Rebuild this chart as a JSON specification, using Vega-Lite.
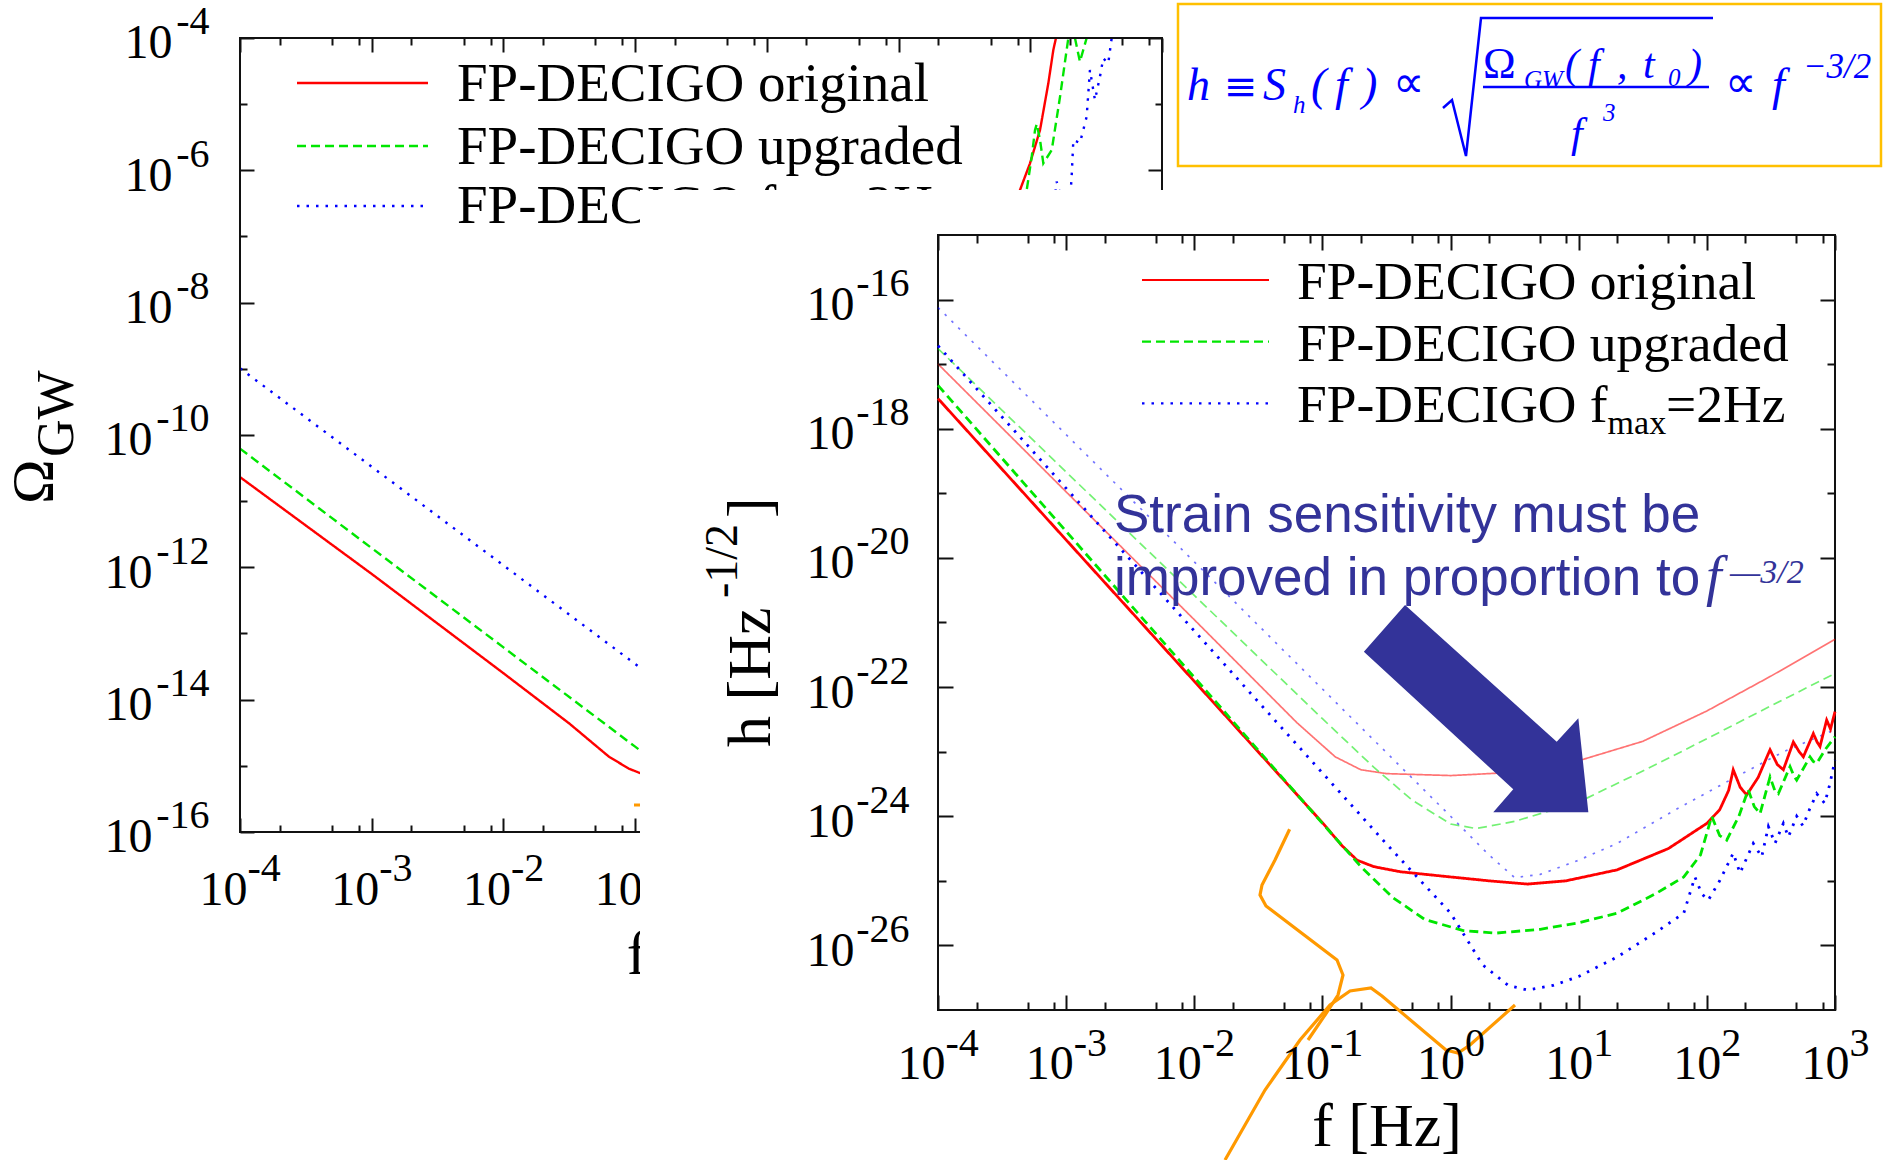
{
  "$schema": "https://vega.github.io/schema/vega-lite/v6.json",
  "width": 1883,
  "height": 1160,
  "autosize": {"type": "none"},
  "padding": 0,
  "background": "white",
  "config": {
    "view": {"stroke": null},
    "axis": {
      "grid": false,
      "labelFont": "Liberation Serif",
      "titleFont": "Liberation Serif",
      "titleFontWeight": "normal",
      "labelColor": "#000",
      "titleColor": "#000",
      "tickColor": "#111",
      "domainColor": "#111",
      "tickWidth": 2,
      "domainWidth": 2,
      "labelFlush": false,
      "labelOverlap": false,
      "labelLimit": 400
    }
  },
  "datasets": {
    "lc": [
      {"s": "original", "g": "a", "lf": -4, "lo": -10.636},
      {"s": "original", "g": "a", "lf": -3, "lo": -12.1},
      {"s": "original", "g": "a", "lf": -2, "lo": -13.6},
      {"s": "original", "g": "a", "lf": -1.5, "lo": -14.36},
      {"s": "original", "g": "a", "lf": -1.2, "lo": -14.86},
      {"s": "original", "g": "a", "lf": -1.05, "lo": -15.04},
      {"s": "original", "g": "a", "lf": -0.9, "lo": -15.16},
      {"s": "original", "g": "a", "lf": -0.7, "lo": -15.3},
      {"s": "original", "g": "b", "lf": 1.8, "lo": -6.95},
      {"s": "original", "g": "b", "lf": 1.922, "lo": -6.297},
      {"s": "original", "g": "b", "lf": 1.998, "lo": -5.894},
      {"s": "original", "g": "b", "lf": 2.074, "lo": -5.39},
      {"s": "original", "g": "b", "lf": 2.137, "lo": -4.685},
      {"s": "original", "g": "b", "lf": 2.175, "lo": -4.181},
      {"s": "original", "g": "b", "lf": 2.195, "lo": -4.0},
      {"s": "upgraded", "g": "a", "lf": -4, "lo": -10.206},
      {"s": "upgraded", "g": "a", "lf": -3, "lo": -11.71},
      {"s": "upgraded", "g": "a", "lf": -2, "lo": -13.21},
      {"s": "upgraded", "g": "a", "lf": -1, "lo": -14.71},
      {"s": "upgraded", "g": "a", "lf": -0.7, "lo": -15.16},
      {"s": "upgraded", "g": "b", "lf": 1.9, "lo": -6.9},
      {"s": "upgraded", "g": "b", "lf": 1.973, "lo": -6.297},
      {"s": "upgraded", "g": "b", "lf": 2.011, "lo": -5.794},
      {"s": "upgraded", "g": "b", "lf": 2.036, "lo": -5.39},
      {"s": "upgraded", "g": "b", "lf": 2.049, "lo": -5.3},
      {"s": "upgraded", "g": "b", "lf": 2.074, "lo": -5.54},
      {"s": "upgraded", "g": "b", "lf": 2.099, "lo": -5.894},
      {"s": "upgraded", "g": "b", "lf": 2.163, "lo": -5.693},
      {"s": "upgraded", "g": "b", "lf": 2.226, "lo": -4.887},
      {"s": "upgraded", "g": "b", "lf": 2.289, "lo": -4.0},
      {"s": "upgraded", "g": "c", "lf": 2.339, "lo": -4.0},
      {"s": "upgraded", "g": "c", "lf": 2.377, "lo": -4.358},
      {"s": "upgraded", "g": "c", "lf": 2.428, "lo": -4.0},
      {"s": "fmax", "g": "a", "lf": -4, "lo": -8.992},
      {"s": "fmax", "g": "a", "lf": -3, "lo": -10.48},
      {"s": "fmax", "g": "a", "lf": -2, "lo": -11.97},
      {"s": "fmax", "g": "a", "lf": -1, "lo": -13.46},
      {"s": "fmax", "g": "a", "lf": -0.7, "lo": -13.91},
      {"s": "fmax", "g": "b", "lf": 2.15, "lo": -6.6},
      {"s": "fmax", "g": "b", "lf": 2.19, "lo": -6.35},
      {"s": "fmax", "g": "b", "lf": 2.2, "lo": -6.17},
      {"s": "fmax", "g": "b", "lf": 2.24, "lo": -6.45},
      {"s": "fmax", "g": "b", "lf": 2.3, "lo": -6.5},
      {"s": "fmax", "g": "b", "lf": 2.314, "lo": -6.1},
      {"s": "fmax", "g": "b", "lf": 2.327, "lo": -5.542},
      {"s": "fmax", "g": "b", "lf": 2.377, "lo": -5.587},
      {"s": "fmax", "g": "b", "lf": 2.428, "lo": -5.189},
      {"s": "fmax", "g": "b", "lf": 2.453, "lo": -4.484},
      {"s": "fmax", "g": "b", "lf": 2.491, "lo": -4.937},
      {"s": "fmax", "g": "b", "lf": 2.529, "lo": -4.585},
      {"s": "fmax", "g": "b", "lf": 2.554, "lo": -4.307},
      {"s": "fmax", "g": "b", "lf": 2.592, "lo": -4.382},
      {"s": "fmax", "g": "b", "lf": 2.618, "lo": -4.0}
    ],
    "llr": [
      {"s": "original", "a": -3.5672, "b": -2.5727, "lo": -4.6801},
      {"s": "upgraded", "a": -3.5672, "b": -2.5727, "lo": -5.6322},
      {"s": "fmax", "a": -3.5672, "b": -2.5727, "lo": -6.539}
    ],
    "llt": [
      {"lf": -2.3525, "lo": -4.9521, "t": "FP-DECIGO original"},
      {"lf": -2.3525, "lo": -5.9043, "t": "FP-DECIGO upgraded"},
      {"lf": -2.3525, "lo": -6.796, "t": "FP-DECIGO f"},
      {"lf": 0.5158, "lo": -6.796, "t": "=2Hz"}
    ],
    "rc": [
      {"s": "original", "k": "faded", "lf": -4, "lh": -16.997},
      {"s": "original", "k": "faded", "lf": -2, "lh": -20.957},
      {"s": "original", "k": "faded", "lf": -1.2, "lh": -22.55},
      {"s": "original", "k": "faded", "lf": -0.9, "lh": -23.08},
      {"s": "original", "k": "faded", "lf": -0.7, "lh": -23.28},
      {"s": "original", "k": "faded", "lf": -0.5, "lh": -23.34},
      {"s": "original", "k": "faded", "lf": 0, "lh": -23.37},
      {"s": "original", "k": "faded", "lf": 0.5, "lh": -23.32},
      {"s": "original", "k": "faded", "lf": 1, "lh": -23.14},
      {"s": "original", "k": "faded", "lf": 1.5, "lh": -22.84},
      {"s": "original", "k": "faded", "lf": 2, "lh": -22.37},
      {"s": "original", "k": "faded", "lf": 2.5, "lh": -21.83},
      {"s": "original", "k": "faded", "lf": 3, "lh": -21.26},
      {"s": "upgraded", "k": "faded", "lf": -4, "lh": -16.758},
      {"s": "upgraded", "k": "faded", "lf": -2, "lh": -20.58},
      {"s": "upgraded", "k": "faded", "lf": -1, "lh": -22.49},
      {"s": "upgraded", "k": "faded", "lf": -0.6, "lh": -23.24},
      {"s": "upgraded", "k": "faded", "lf": -0.3, "lh": -23.75},
      {"s": "upgraded", "k": "faded", "lf": 0, "lh": -24.12},
      {"s": "upgraded", "k": "faded", "lf": 0.2, "lh": -24.19},
      {"s": "upgraded", "k": "faded", "lf": 0.5, "lh": -24.08},
      {"s": "upgraded", "k": "faded", "lf": 1, "lh": -23.78},
      {"s": "upgraded", "k": "faded", "lf": 1.5, "lh": -23.3},
      {"s": "upgraded", "k": "faded", "lf": 2, "lh": -22.8},
      {"s": "upgraded", "k": "faded", "lf": 2.5, "lh": -22.29},
      {"s": "upgraded", "k": "faded", "lf": 3, "lh": -21.79},
      {"s": "fmax", "k": "faded", "lf": -4, "lh": -16.123},
      {"s": "fmax", "k": "faded", "lf": -2, "lh": -20.06},
      {"s": "fmax", "k": "faded", "lf": -1, "lh": -22.03},
      {"s": "fmax", "k": "faded", "lf": 0, "lh": -24.0},
      {"s": "fmax", "k": "faded", "lf": 0.3, "lh": -24.6},
      {"s": "fmax", "k": "faded", "lf": 0.5, "lh": -24.95},
      {"s": "fmax", "k": "faded", "lf": 0.7, "lh": -24.9},
      {"s": "fmax", "k": "faded", "lf": 1, "lh": -24.68},
      {"s": "fmax", "k": "faded", "lf": 1.3, "lh": -24.42},
      {"s": "fmax", "k": "faded", "lf": 1.8, "lh": -23.85},
      {"s": "fmax", "k": "faded", "lf": 2.2, "lh": -23.42},
      {"s": "fmax", "k": "faded", "lf": 2.6, "lh": -23.0},
      {"s": "fmax", "k": "faded", "lf": 3, "lh": -22.66},
      {"s": "original", "k": "bold", "lf": -4, "lh": -17.533},
      {"s": "original", "k": "bold", "lf": -2, "lh": -21.91},
      {"s": "original", "k": "bold", "lf": -1, "lh": -24.1},
      {"s": "original", "k": "bold", "lf": -0.85, "lh": -24.45},
      {"s": "original", "k": "bold", "lf": -0.73, "lh": -24.68},
      {"s": "original", "k": "bold", "lf": -0.6, "lh": -24.78},
      {"s": "original", "k": "bold", "lf": -0.39, "lh": -24.86},
      {"s": "original", "k": "bold", "lf": 0, "lh": -24.94},
      {"s": "original", "k": "bold", "lf": 0.3, "lh": -25.0},
      {"s": "original", "k": "bold", "lf": 0.6, "lh": -25.05},
      {"s": "original", "k": "bold", "lf": 0.9, "lh": -25.0},
      {"s": "original", "k": "bold", "lf": 1.3, "lh": -24.83},
      {"s": "original", "k": "bold", "lf": 1.7, "lh": -24.5},
      {"s": "original", "k": "bold", "lf": 2, "lh": -24.11},
      {"s": "original", "k": "bold", "lf": 2.1, "lh": -23.9},
      {"s": "original", "k": "bold", "lf": 2.17, "lh": -23.6},
      {"s": "original", "k": "bold", "lf": 2.206, "lh": -23.28},
      {"s": "original", "k": "bold", "lf": 2.26, "lh": -23.55},
      {"s": "original", "k": "bold", "lf": 2.311, "lh": -23.67},
      {"s": "original", "k": "bold", "lf": 2.4, "lh": -23.4},
      {"s": "original", "k": "bold", "lf": 2.493, "lh": -22.97},
      {"s": "original", "k": "bold", "lf": 2.55, "lh": -23.2},
      {"s": "original", "k": "bold", "lf": 2.597, "lh": -23.28},
      {"s": "original", "k": "bold", "lf": 2.675, "lh": -22.85},
      {"s": "original", "k": "bold", "lf": 2.72, "lh": -23.0},
      {"s": "original", "k": "bold", "lf": 2.753, "lh": -23.08},
      {"s": "original", "k": "bold", "lf": 2.831, "lh": -22.72},
      {"s": "original", "k": "bold", "lf": 2.86, "lh": -22.85},
      {"s": "original", "k": "bold", "lf": 2.883, "lh": -22.92},
      {"s": "original", "k": "bold", "lf": 2.935, "lh": -22.51},
      {"s": "original", "k": "bold", "lf": 2.965, "lh": -22.65},
      {"s": "original", "k": "bold", "lf": 3, "lh": -22.38},
      {"s": "upgraded", "k": "bold", "lf": -4, "lh": -17.328},
      {"s": "upgraded", "k": "bold", "lf": -2, "lh": -21.85},
      {"s": "upgraded", "k": "bold", "lf": -1, "lh": -24.11},
      {"s": "upgraded", "k": "bold", "lf": -0.7, "lh": -24.78},
      {"s": "upgraded", "k": "bold", "lf": -0.45, "lh": -25.26},
      {"s": "upgraded", "k": "bold", "lf": -0.2, "lh": -25.6},
      {"s": "upgraded", "k": "bold", "lf": 0.1, "lh": -25.77},
      {"s": "upgraded", "k": "bold", "lf": 0.35, "lh": -25.81},
      {"s": "upgraded", "k": "bold", "lf": 0.7, "lh": -25.75},
      {"s": "upgraded", "k": "bold", "lf": 1, "lh": -25.65},
      {"s": "upgraded", "k": "bold", "lf": 1.3, "lh": -25.5},
      {"s": "upgraded", "k": "bold", "lf": 1.6, "lh": -25.2},
      {"s": "upgraded", "k": "bold", "lf": 1.82, "lh": -24.94},
      {"s": "upgraded", "k": "bold", "lf": 1.95, "lh": -24.6},
      {"s": "upgraded", "k": "bold", "lf": 2.038, "lh": -24.0},
      {"s": "upgraded", "k": "bold", "lf": 2.1, "lh": -24.3},
      {"s": "upgraded", "k": "bold", "lf": 2.155, "lh": -24.37},
      {"s": "upgraded", "k": "bold", "lf": 2.25, "lh": -24.0},
      {"s": "upgraded", "k": "bold", "lf": 2.323, "lh": -23.59},
      {"s": "upgraded", "k": "bold", "lf": 2.37, "lh": -23.85},
      {"s": "upgraded", "k": "bold", "lf": 2.415, "lh": -23.96},
      {"s": "upgraded", "k": "bold", "lf": 2.493, "lh": -23.39},
      {"s": "upgraded", "k": "bold", "lf": 2.53, "lh": -23.6},
      {"s": "upgraded", "k": "bold", "lf": 2.558, "lh": -23.65},
      {"s": "upgraded", "k": "bold", "lf": 2.649, "lh": -23.23},
      {"s": "upgraded", "k": "bold", "lf": 2.68, "lh": -23.38},
      {"s": "upgraded", "k": "bold", "lf": 2.701, "lh": -23.44},
      {"s": "upgraded", "k": "bold", "lf": 2.805, "lh": -23.08},
      {"s": "upgraded", "k": "bold", "lf": 2.83, "lh": -23.15},
      {"s": "upgraded", "k": "bold", "lf": 2.857, "lh": -23.18},
      {"s": "upgraded", "k": "bold", "lf": 2.93, "lh": -22.95},
      {"s": "upgraded", "k": "bold", "lf": 3, "lh": -22.77},
      {"s": "fmax", "k": "bold", "lf": -4, "lh": -16.715},
      {"s": "fmax", "k": "bold", "lf": -2, "lh": -21.13},
      {"s": "fmax", "k": "bold", "lf": -1, "lh": -23.33},
      {"s": "fmax", "k": "bold", "lf": -0.5, "lh": -24.43},
      {"s": "fmax", "k": "bold", "lf": 0, "lh": -25.5},
      {"s": "fmax", "k": "bold", "lf": 0.25, "lh": -26.3},
      {"s": "fmax", "k": "bold", "lf": 0.45, "lh": -26.62},
      {"s": "fmax", "k": "bold", "lf": 0.6, "lh": -26.69},
      {"s": "fmax", "k": "bold", "lf": 0.8, "lh": -26.62},
      {"s": "fmax", "k": "bold", "lf": 1, "lh": -26.48},
      {"s": "fmax", "k": "bold", "lf": 1.3, "lh": -26.18},
      {"s": "fmax", "k": "bold", "lf": 1.6, "lh": -25.8},
      {"s": "fmax", "k": "bold", "lf": 1.82, "lh": -25.5},
      {"s": "fmax", "k": "bold", "lf": 1.907, "lh": -24.94},
      {"s": "fmax", "k": "bold", "lf": 1.96, "lh": -25.2},
      {"s": "fmax", "k": "bold", "lf": 2.011, "lh": -25.3},
      {"s": "fmax", "k": "bold", "lf": 2.1, "lh": -25.0},
      {"s": "fmax", "k": "bold", "lf": 2.206, "lh": -24.57},
      {"s": "fmax", "k": "bold", "lf": 2.259, "lh": -24.88},
      {"s": "fmax", "k": "bold", "lf": 2.362, "lh": -24.42},
      {"s": "fmax", "k": "bold", "lf": 2.428, "lh": -24.63},
      {"s": "fmax", "k": "bold", "lf": 2.48, "lh": -24.16},
      {"s": "fmax", "k": "bold", "lf": 2.532, "lh": -24.42},
      {"s": "fmax", "k": "bold", "lf": 2.597, "lh": -24.11},
      {"s": "fmax", "k": "bold", "lf": 2.636, "lh": -24.32},
      {"s": "fmax", "k": "bold", "lf": 2.701, "lh": -24.0},
      {"s": "fmax", "k": "bold", "lf": 2.75, "lh": -24.15},
      {"s": "fmax", "k": "bold", "lf": 2.8, "lh": -23.9},
      {"s": "fmax", "k": "bold", "lf": 2.857, "lh": -23.65},
      {"s": "fmax", "k": "bold", "lf": 2.92, "lh": -23.8},
      {"s": "fmax", "k": "bold", "lf": 2.96, "lh": -23.5},
      {"s": "fmax", "k": "bold", "lf": 3, "lh": -23.13}
    ],
    "rlr": [
      {"s": "original", "a": -2.4081, "b": -1.417, "lh": -15.6968},
      {"s": "upgraded", "a": -2.4081, "b": -1.417, "lh": -16.6522},
      {"s": "fmax", "a": -2.4081, "b": -1.417, "lh": -17.606}
    ],
    "rlt": [
      {"lf": -1.1985, "lh": -15.991, "t": "FP-DECIGO original"},
      {"lf": -1.1985, "lh": -16.9464, "t": "FP-DECIGO upgraded"},
      {"lf": -1.1985, "lh": -17.9002, "t": "FP-DECIGO f"},
      {"lf": 1.6819, "lh": -17.9002, "t": "=2Hz"}
    ],
    "orange": [
      {"c": "A", "i": 0, "lf": -1.2562, "lh": -24.2022},
      {"c": "A", "i": 1, "lf": -1.3702, "lh": -24.6775},
      {"c": "A", "i": 2, "lf": -1.4716, "lh": -25.0646},
      {"c": "A", "i": 3, "lf": -1.4872, "lh": -25.2195},
      {"c": "A", "i": 4, "lf": -1.4404, "lh": -25.3898},
      {"c": "A", "i": 5, "lf": -0.8863, "lh": -26.2259},
      {"c": "A", "i": 6, "lf": -0.8395, "lh": -26.4582},
      {"c": "A", "i": 7, "lf": -0.8785, "lh": -26.7679},
      {"c": "A", "i": 8, "lf": -0.98, "lh": -27.0776},
      {"c": "A", "i": 9, "lf": -1.1126, "lh": -27.4647},
      {"c": "B", "i": 0, "lf": -1.7603, "lh": -29.3227},
      {"c": "B", "i": 1, "lf": -1.4482, "lh": -28.2389},
      {"c": "B", "i": 2, "lf": -1.1751, "lh": -27.4647},
      {"c": "B", "i": 3, "lf": -0.9409, "lh": -26.9227},
      {"c": "B", "i": 4, "lf": -0.7849, "lh": -26.7059},
      {"c": "B", "i": 5, "lf": -0.621, "lh": -26.6595},
      {"c": "B", "i": 6, "lf": -0.5351, "lh": -26.7834},
      {"c": "B", "i": 7, "lf": -0.0357, "lh": -27.6195},
      {"c": "B", "i": 8, "lf": 0.0579, "lh": -27.666},
      {"c": "B", "i": 9, "lf": 0.1516, "lh": -27.5421},
      {"c": "B", "i": 10, "lf": 0.5028, "lh": -26.9227}
    ],
    "fit46": [
      {"lf": -2.0569, "lh": -12.9097, "t": "h"},
      {"lf": -1.4638, "lh": -12.9097, "t": "S"},
      {"lf": -1.0892, "lh": -12.9097, "t": "("},
      {"lf": -0.9019, "lh": -12.9097, "t": "f"},
      {"lf": -0.6912, "lh": -12.9097, "t": ")"},
      {"lf": 2.5083, "lh": -12.9097, "t": "f"}
    ],
    "fit42": [
      {"lf": 0.8929, "lh": -12.5691, "t": "("},
      {"lf": 1.0724, "lh": -12.5691, "t": "f"},
      {"lf": 1.2987, "lh": -12.5691, "t": ","},
      {"lf": 1.5016, "lh": -12.5691, "t": "t"},
      {"lf": 1.8528, "lh": -12.5691, "t": ")"},
      {"lf": 0.9398, "lh": -13.6374, "t": "f"}
    ],
    "fprop": [
      {"lf": -0.4493, "lh": -12.86, "t": "∝"},
      {"lf": 2.1416, "lh": -12.86, "t": "∝"}
    ],
    "fsm": [
      {"lf": -1.2297, "lh": -13.111, "t": "h"},
      {"lf": 0.573, "lh": -12.7239, "t": "GW"},
      {"lf": 1.6967, "lh": -12.6929, "t": "0"},
      {"lf": 1.1895, "lh": -13.2349, "t": "3"}
    ],
    "sqrt": [
      {"lf": -0.0591, "lh": -13.0336},
      {"lf": 0.0111, "lh": -12.9097},
      {"lf": 0.1204, "lh": -13.7768},
      {"lf": 0.2374, "lh": -11.64},
      {"lf": 2.0479, "lh": -11.64}
    ]
  },
  "layer": [
    {
      "layer": [
        {
          "data": {"name": "lc"},
          "mark": {"type": "line", "strokeWidth": 2.4},
          "encoding": {
            "x": {"field": "lf", "type": "quantitative", "scale": {"domain": [-5.8221, 8.474], "nice": false, "zero": false},
              "axis": {"orient": "bottom", "offset": -328, "values": [-4, -3, -2, -1, 0, 1, 2, 3], "tickSize": -14, "domain": false,
                "labelExpr": "'10'", "labelFontSize": 48, "labelAlign": "right", "labelBaseline": "alphabetic", "labelPadding": 86,
                "labelOffset": {"condition": {"test": "datum.value < 0", "value": 7}, "value": 14},
                "title": "f [Hz]", "titleFontSize": 62, "titleAlign": "center", "titleBaseline": "alphabetic", "titleX": 701, "titleY": 141, "zindex": 0}},
            "y": {"field": "lo", "type": "quantitative", "scale": {"domain": [-20.9572, -3.4257], "nice": false, "zero": false},
              "axis": {"orient": "left", "offset": -240, "values": [-16, -14, -12, -10, -8, -6, -4], "tickSize": -14, "domain": false,
                "labelExpr": "'10'", "labelFontSize": 48, "labelAlign": "right", "labelBaseline": "alphabetic",
                "labelPadding": {"condition": {"test": "datum.value <= -10", "value": 102}, "value": 82},
                "labelOffset": 20, "title": null, "zindex": 0}},
            "color": {"field": "s", "type": "nominal", "scale": {"domain": ["original", "upgraded", "fmax"], "range": ["#ff0000", "#00e600", "#0000ff"]}, "legend": null},
            "strokeDash": {"field": "s", "type": "nominal", "scale": {"domain": ["original", "upgraded", "fmax"], "range": [[1, 0], [9, 5], [2.5, 7]]}, "legend": null},
            "detail": {"field": "g"}
          }
        },
        {
          "data": {"values": [{}]},
          "mark": {"type": "rect", "fillOpacity": 0, "stroke": "#111", "strokeWidth": 2},
          "encoding": {
            "x": {"datum": -4, "type": "quantitative", "scale": {"domain": [-5.8221, 8.474], "nice": false, "zero": false},
              "axis": {"orient": "bottom", "offset": -328, "values": [-3.699, -3.301, -3.097, -2.699, -2.301, -2.097, -1.699, -1.301, -1.097, -0.699, -0.301, -0.097, 0.301, 0.699, 0.903, 1.301, 1.699, 1.903, 2.301, 2.699, 2.903],
                "tickSize": -7, "labels": false, "domain": false, "title": null, "zindex": 0}},
            "x2": {"datum": 3},
            "y": {"datum": -16, "type": "quantitative", "scale": {"domain": [-20.9572, -3.4257], "nice": false, "zero": false},
              "axis": {"orient": "left", "offset": -240, "values": [-15, -13, -11, -9, -7, -5], "tickSize": -7, "labels": false, "domain": false, "title": null, "zindex": 0}},
            "y2": {"datum": -4}
          }
        },
        {
          "data": {"name": "llr"},
          "mark": {"type": "rule", "strokeWidth": 2.4},
          "encoding": {
            "x": {"field": "a", "type": "quantitative", "scale": {"domain": [-5.8221, 8.474], "nice": false, "zero": false},
              "axis": {"orient": "bottom", "offset": -328, "values": [-4, -3, -2, -1, 0, 1, 2, 3], "ticks": false, "domain": false,
                "labelExpr": "'' + datum.value", "labelFontSize": 40, "labelAlign": "left", "labelBaseline": "alphabetic", "labelPadding": 48,
                "labelOffset": {"condition": {"test": "datum.value < 0", "value": 7}, "value": 14}, "title": null, "zindex": 0}},
            "x2": {"field": "b"},
            "y": {"field": "lo", "type": "quantitative", "scale": {"domain": [-20.9572, -3.4257], "nice": false, "zero": false},
              "axis": {"orient": "left", "offset": -240, "values": [-16, -14, -12, -10, -8, -6, -4], "ticks": false, "domain": false,
                "labelExpr": "'' + datum.value", "labelFontSize": 40, "labelAlign": "right", "labelBaseline": "alphabetic", "labelPadding": 31,
                "labelOffset": -4, "title": null, "zindex": 0}},
            "color": {"field": "s", "type": "nominal", "scale": {"domain": ["original", "upgraded", "fmax"], "range": ["#ff0000", "#00e600", "#0000ff"]}, "legend": null},
            "strokeDash": {"field": "s", "type": "nominal", "scale": {"domain": ["original", "upgraded", "fmax"], "range": [[1, 0], [9, 5], [2.5, 7]]}, "legend": null}
          }
        },
        {
          "data": {"name": "llt"},
          "mark": {"type": "text", "font": "Liberation Serif", "fontSize": 55, "align": "left", "baseline": "alphabetic", "color": "#000"},
          "encoding": {
            "x": {"field": "lf", "type": "quantitative", "scale": {"domain": [-5.8221, 8.474], "nice": false, "zero": false},
              "axis": {"orient": "top", "offset": -38, "values": [-4, -3, -2, -1, 0, 1, 2, 3], "tickSize": -14, "labels": false, "domain": false, "title": null, "zindex": 0}},
            "y": {"field": "lo", "type": "quantitative", "scale": {"domain": [-20.9572, -3.4257], "nice": false, "zero": false},
              "axis": {"orient": "right", "offset": -721, "values": [-16, -14, -12, -10, -8, -6, -4], "tickSize": -14, "labels": false, "domain": false, "title": null, "zindex": 0}},
            "text": {"field": "t"}
          }
        },
        {
          "data": {"values": [{"lf": -5.4198, "lo": -11.0428, "t": "Ω"}]},
          "mark": {"type": "text", "font": "Liberation Serif", "fontSize": 60, "angle": 270, "align": "left", "baseline": "alphabetic", "color": "#000"},
          "encoding": {
            "x": {"field": "lf", "type": "quantitative", "scale": {"domain": [-5.8221, 8.474], "nice": false, "zero": false},
              "axis": {"orient": "top", "offset": -38, "values": [-3.699, -3.301, -3.097, -2.699, -2.301, -2.097, -1.699, -1.301, -1.097, -0.699, -0.301, -0.097, 0.301, 0.699, 0.903, 1.301, 1.699, 1.903, 2.301, 2.699, 2.903],
                "tickSize": -7, "labels": false, "domain": false, "title": null, "zindex": 0}},
            "y": {"field": "lo", "type": "quantitative", "scale": {"domain": [-20.9572, -3.4257], "nice": false, "zero": false},
              "axis": {"orient": "right", "offset": -721, "values": [-15, -13, -11, -9, -7, -5], "tickSize": -7, "labels": false, "domain": false, "title": null, "zindex": 0}},
            "text": {"field": "t"}
          }
        },
        {
          "data": {"values": [{"lf": -5.2679, "lo": -10.3325, "t": "GW"}]},
          "mark": {"type": "text", "font": "Liberation Serif", "fontSize": 52, "angle": 270, "align": "left", "baseline": "alphabetic", "color": "#000"},
          "encoding": {
            "x": {"field": "lf", "type": "quantitative", "scale": {"domain": [-5.8221, 8.474], "nice": false, "zero": false}, "axis": null},
            "y": {"field": "lo", "type": "quantitative", "scale": {"domain": [-20.9572, -3.4257], "nice": false, "zero": false}, "axis": null},
            "text": {"field": "t"}
          }
        },
        {
          "data": {"values": [{"lf": 0.0717, "lo": -6.9773, "t": "max"}]},
          "mark": {"type": "text", "font": "Liberation Serif", "fontSize": 34, "align": "left", "baseline": "alphabetic", "color": "#000"},
          "encoding": {
            "x": {"field": "lf", "type": "quantitative", "scale": {"domain": [-5.8221, 8.474], "nice": false, "zero": false}, "axis": null},
            "y": {"field": "lo", "type": "quantitative", "scale": {"domain": [-20.9572, -3.4257], "nice": false, "zero": false}, "axis": null},
            "text": {"field": "t"}
          }
        },
        {
          "data": {"values": [{"lf": -1.0087, "lo": -15.592}, {"lf": -0.9555, "lo": -15.592}]},
          "mark": {"type": "line", "color": "#ff9900", "strokeWidth": 3},
          "encoding": {
            "x": {"field": "lf", "type": "quantitative", "scale": {"domain": [-5.8221, 8.474], "nice": false, "zero": false}, "axis": null},
            "y": {"field": "lo", "type": "quantitative", "scale": {"domain": [-20.9572, -3.4257], "nice": false, "zero": false}, "axis": null}
          }
        }
      ],
      "resolve": {"scale": {"x": "shared", "y": "shared"}, "axis": {"x": "independent", "y": "independent"}}
    },
    {
      "layer": [
        {
          "data": {"values": [{}]},
          "mark": {"type": "rect", "fill": "#ffffff", "strokeWidth": 0},
          "encoding": {
            "x": {"datum": -6.3256, "type": "quantitative", "scale": {"domain": [-11.32, 3.3746], "nice": false, "zero": false}, "axis": null},
            "x2": {"datum": 3.6},
            "y": {"datum": -30, "type": "quantitative", "scale": {"domain": [-29.3226, -11.3613], "nice": false, "zero": false}, "axis": null},
            "y2": {"datum": -14.3033}
          }
        },
        {
          "data": {"values": [{}]},
          "mark": {"type": "rect", "fillOpacity": 0, "stroke": "#111", "strokeWidth": 2},
          "encoding": {
            "x": {"datum": -4, "type": "quantitative", "scale": {"domain": [-11.32, 3.3746], "nice": false, "zero": false}, "axis": null},
            "x2": {"datum": 3},
            "y": {"datum": -27, "type": "quantitative", "scale": {"domain": [-29.3226, -11.3613], "nice": false, "zero": false}, "axis": null},
            "y2": {"datum": -15}
          }
        },
        {
          "data": {"name": "rc"},
          "mark": {"type": "line"},
          "encoding": {
            "x": {"field": "lf", "type": "quantitative", "scale": {"domain": [-11.32, 3.3746], "nice": false, "zero": false},
              "axis": {"orient": "bottom", "offset": -150, "values": [-4, -3, -2, -1, 0, 1, 2, 3], "tickSize": -15, "domain": false,
                "labelExpr": "'10'", "labelFontSize": 48, "labelAlign": "right", "labelBaseline": "alphabetic", "labelPadding": 83,
                "labelOffset": {"condition": {"test": "datum.value < 0", "value": 7}, "value": 14},
                "title": "f [Hz]", "titleFontSize": 62, "titleAlign": "center", "titleBaseline": "alphabetic", "titleX": 1386.5, "titleY": 135, "zindex": 1}},
            "y": {"field": "lh", "type": "quantitative", "scale": {"domain": [-29.3226, -11.3613], "nice": false, "zero": false},
              "axis": {"orient": "left", "offset": -938, "values": [-26, -24, -22, -20, -18, -16], "tickSize": -15, "domain": false,
                "labelExpr": "'10'", "labelFontSize": 48, "labelAlign": "right", "labelBaseline": "alphabetic", "labelPadding": 99,
                "labelOffset": 20, "title": null, "zindex": 1}},
            "color": {"field": "s", "type": "nominal", "scale": {"domain": ["original", "upgraded", "fmax"], "range": ["#ff0000", "#00e600", "#0000ff"]}, "legend": null},
            "strokeDash": {"field": "s", "type": "nominal", "scale": {"domain": ["original", "upgraded", "fmax"], "range": [[1, 0], [9, 5], [2.5, 7]]}, "legend": null},
            "opacity": {"field": "k", "type": "ordinal", "scale": {"domain": ["bold", "faded"], "range": [1, 0.55]}, "legend": null},
            "strokeWidth": {"field": "k", "type": "ordinal", "scale": {"domain": ["bold", "faded"], "range": [2.8, 1.7]}, "legend": null}
          }
        },
        {
          "data": {"name": "rlr"},
          "mark": {"type": "rule", "strokeWidth": 2.2},
          "encoding": {
            "x": {"field": "a", "type": "quantitative", "scale": {"domain": [-11.32, 3.3746], "nice": false, "zero": false},
              "axis": {"orient": "bottom", "offset": -150, "values": [-3.699, -3.301, -3.097, -2.699, -2.301, -2.097, -1.699, -1.301, -1.097, -0.699, -0.301, -0.097, 0.301, 0.699, 0.903, 1.301, 1.699, 1.903, 2.301, 2.699, 2.903],
                "tickSize": -8, "labels": false, "domain": false, "title": null, "zindex": 1}},
            "x2": {"field": "b"},
            "y": {"field": "lh", "type": "quantitative", "scale": {"domain": [-29.3226, -11.3613], "nice": false, "zero": false},
              "axis": {"orient": "left", "offset": -938, "values": [-25, -23, -21, -19, -17], "tickSize": -8, "labels": false, "domain": false, "title": null, "zindex": 1}},
            "color": {"field": "s", "type": "nominal", "scale": {"domain": ["original", "upgraded", "fmax"], "range": ["#ff0000", "#00e600", "#0000ff"]}, "legend": null},
            "strokeDash": {"field": "s", "type": "nominal", "scale": {"domain": ["original", "upgraded", "fmax"], "range": [[1, 0], [9, 5], [2.5, 7]]}, "legend": null}
          }
        },
        {
          "data": {"name": "rlt"},
          "mark": {"type": "text", "font": "Liberation Serif", "fontSize": 53.5, "align": "left", "baseline": "alphabetic", "color": "#000"},
          "encoding": {
            "x": {"field": "lf", "type": "quantitative", "scale": {"domain": [-11.32, 3.3746], "nice": false, "zero": false},
              "axis": {"orient": "bottom", "offset": -150, "values": [-4, -3, -2, -1, 0, 1, 2, 3], "ticks": false, "domain": false,
                "labelExpr": "'' + datum.value", "labelFontSize": 40, "labelAlign": "left", "labelBaseline": "alphabetic", "labelPadding": 45,
                "labelOffset": {"condition": {"test": "datum.value < 0", "value": 7}, "value": 14}, "title": null, "zindex": 1}},
            "y": {"field": "lh", "type": "quantitative", "scale": {"domain": [-29.3226, -11.3613], "nice": false, "zero": false},
              "axis": {"orient": "left", "offset": -938, "values": [-26, -24, -22, -20, -18, -16], "ticks": false, "domain": false,
                "labelExpr": "'' + datum.value", "labelFontSize": 40, "labelAlign": "right", "labelBaseline": "alphabetic", "labelPadding": 29,
                "labelOffset": -4, "title": null, "zindex": 1}},
            "text": {"field": "t"}
          }
        },
        {
          "data": {"values": [
            {"lf": -2.6266, "lh": -19.5988, "t": "Strain sensitivity must be"},
            {"lf": -2.6266, "lh": -20.5743, "t": "improved in proportion to"}
          ]},
          "mark": {"type": "text", "font": "Liberation Sans", "fontSize": 53, "align": "left", "baseline": "alphabetic", "color": "#333399"},
          "encoding": {
            "x": {"field": "lf", "type": "quantitative", "scale": {"domain": [-11.32, 3.3746], "nice": false, "zero": false},
              "axis": {"orient": "top", "offset": -235, "values": [-4, -3, -2, -1, 0, 1, 2, 3], "tickSize": -15, "labels": false, "domain": false, "title": null, "zindex": 1}},
            "y": {"field": "lh", "type": "quantitative", "scale": {"domain": [-29.3226, -11.3613], "nice": false, "zero": false},
              "axis": {"orient": "right", "offset": -48, "values": [-26, -24, -22, -20, -18, -16], "tickSize": -15, "labels": false, "domain": false, "title": null, "zindex": 1}},
            "text": {"field": "t"}
          }
        },
        {
          "data": {"values": [{"lf": 0.1984, "lh": -22.3347}]},
          "mark": {"type": "point", "filled": true, "fill": "#333399", "opacity": 1, "strokeWidth": 0, "size": 52900,
            "shape": "M -0.617 -0.902 L -0.975 -0.496 L 0.324 0.701 L 0.150 0.901 L 0.977 0.901 L 0.890 0.083 L 0.702 0.287 Z"},
          "encoding": {
            "x": {"field": "lf", "type": "quantitative", "scale": {"domain": [-11.32, 3.3746], "nice": false, "zero": false},
              "axis": {"orient": "top", "offset": -235, "values": [-3.699, -3.301, -3.097, -2.699, -2.301, -2.097, -1.699, -1.301, -1.097, -0.699, -0.301, -0.097, 0.301, 0.699, 0.903, 1.301, 1.699, 1.903, 2.301, 2.699, 2.903],
                "tickSize": -8, "labels": false, "domain": false, "title": null, "zindex": 1}},
            "y": {"field": "lh", "type": "quantitative", "scale": {"domain": [-29.3226, -11.3613], "nice": false, "zero": false},
              "axis": {"orient": "right", "offset": -48, "values": [-25, -23, -21, -19, -17], "tickSize": -8, "labels": false, "domain": false, "title": null, "zindex": 1}}
          }
        },
        {
          "data": {"values": [{"lf": 1.2254, "lh": -18.086, "t": "max"}]},
          "mark": {"type": "text", "font": "Liberation Serif", "fontSize": 34, "align": "left", "baseline": "alphabetic", "color": "#000"},
          "encoding": {
            "x": {"field": "lf", "type": "quantitative", "scale": {"domain": [-11.32, 3.3746], "nice": false, "zero": false}, "axis": null},
            "y": {"field": "lh", "type": "quantitative", "scale": {"domain": [-29.3226, -11.3613], "nice": false, "zero": false}, "axis": null},
            "text": {"field": "t"}
          }
        },
        {
          "data": {"values": [
            {"lf": -5.3111, "lh": -22.9278, "t": "h [Hz"},
            {"lf": -5.3111, "lh": -19.382, "t": "]"}
          ]},
          "mark": {"type": "text", "font": "Liberation Serif", "fontSize": 62, "angle": 270, "align": "left", "baseline": "alphabetic", "color": "#000"},
          "encoding": {
            "x": {"field": "lf", "type": "quantitative", "scale": {"domain": [-11.32, 3.3746], "nice": false, "zero": false}, "axis": null},
            "y": {"field": "lh", "type": "quantitative", "scale": {"domain": [-29.3226, -11.3613], "nice": false, "zero": false}, "axis": null},
            "text": {"field": "t"}
          }
        },
        {
          "data": {"values": [{"lf": -5.5686, "lh": -20.6207, "t": "-1/2"}]},
          "mark": {"type": "text", "font": "Liberation Serif", "fontSize": 46, "angle": 270, "align": "left", "baseline": "alphabetic", "color": "#000"},
          "encoding": {
            "x": {"field": "lf", "type": "quantitative", "scale": {"domain": [-11.32, 3.3746], "nice": false, "zero": false}, "axis": null},
            "y": {"field": "lh", "type": "quantitative", "scale": {"domain": [-29.3226, -11.3613], "nice": false, "zero": false}, "axis": null},
            "text": {"field": "t"}
          }
        },
        {
          "data": {"values": [{"lf": 1.9933, "lh": -20.5743, "t": "f"}]},
          "mark": {"type": "text", "font": "Liberation Serif", "fontStyle": "italic", "fontSize": 56, "align": "left", "baseline": "alphabetic", "color": "#333399"},
          "encoding": {
            "x": {"field": "lf", "type": "quantitative", "scale": {"domain": [-11.32, 3.3746], "nice": false, "zero": false}, "axis": null},
            "y": {"field": "lh", "type": "quantitative", "scale": {"domain": [-29.3226, -11.3613], "nice": false, "zero": false}, "axis": null},
            "text": {"field": "t"}
          }
        },
        {
          "data": {"values": [{"lf": 2.1806, "lh": -20.39, "t": "—3/2"}]},
          "mark": {"type": "text", "font": "Liberation Serif", "fontStyle": "italic", "fontSize": 34, "align": "left", "baseline": "alphabetic", "color": "#333399"},
          "encoding": {
            "x": {"field": "lf", "type": "quantitative", "scale": {"domain": [-11.32, 3.3746], "nice": false, "zero": false}, "axis": null},
            "y": {"field": "lh", "type": "quantitative", "scale": {"domain": [-29.3226, -11.3613], "nice": false, "zero": false}, "axis": null},
            "text": {"field": "t"}
          }
        },
        {
          "data": {"values": [{}]},
          "mark": {"type": "rect", "fill": "#ffffff", "stroke": "#ffc000", "strokeWidth": 2.5},
          "encoding": {
            "x": {"datum": -2.1271, "type": "quantitative", "scale": {"domain": [-11.32, 3.3746], "nice": false, "zero": false}, "axis": null},
            "x2": {"datum": 3.3589},
            "y": {"datum": -11.4232, "type": "quantitative", "scale": {"domain": [-29.3226, -11.3613], "nice": false, "zero": false}, "axis": null},
            "y2": {"datum": -13.9316}
          }
        },
        {
          "data": {"name": "fit46"},
          "mark": {"type": "text", "font": "Liberation Serif", "fontStyle": "italic", "fontSize": 46, "align": "left", "baseline": "alphabetic", "color": "#0000ff"},
          "encoding": {
            "x": {"field": "lf", "type": "quantitative", "scale": {"domain": [-11.32, 3.3746], "nice": false, "zero": false}, "axis": null},
            "y": {"field": "lh", "type": "quantitative", "scale": {"domain": [-29.3226, -11.3613], "nice": false, "zero": false}, "axis": null},
            "text": {"field": "t"}
          }
        },
        {
          "data": {"name": "fit42"},
          "mark": {"type": "text", "font": "Liberation Serif", "fontStyle": "italic", "fontSize": 42, "align": "left", "baseline": "alphabetic", "color": "#0000ff"},
          "encoding": {
            "x": {"field": "lf", "type": "quantitative", "scale": {"domain": [-11.32, 3.3746], "nice": false, "zero": false}, "axis": null},
            "y": {"field": "lh", "type": "quantitative", "scale": {"domain": [-29.3226, -11.3613], "nice": false, "zero": false}, "axis": null},
            "text": {"field": "t"}
          }
        },
        {
          "data": {"values": [{"lf": 0.253, "lh": -12.5691, "t": "Ω"}]},
          "mark": {"type": "text", "font": "Liberation Serif", "fontSize": 44, "align": "left", "baseline": "alphabetic", "color": "#0000ff"},
          "encoding": {
            "x": {"field": "lf", "type": "quantitative", "scale": {"domain": [-11.32, 3.3746], "nice": false, "zero": false}, "axis": null},
            "y": {"field": "lh", "type": "quantitative", "scale": {"domain": [-29.3226, -11.3613], "nice": false, "zero": false}, "axis": null},
            "text": {"field": "t"}
          }
        },
        {
          "data": {"values": [{"lf": -1.7681, "lh": -12.9097, "t": "≡"}]},
          "mark": {"type": "text", "font": "DejaVu Serif", "fontSize": 40, "align": "left", "baseline": "alphabetic", "color": "#0000ff"},
          "encoding": {
            "x": {"field": "lf", "type": "quantitative", "scale": {"domain": [-11.32, 3.3746], "nice": false, "zero": false}, "axis": null},
            "y": {"field": "lh", "type": "quantitative", "scale": {"domain": [-29.3226, -11.3613], "nice": false, "zero": false}, "axis": null},
            "text": {"field": "t"}
          }
        },
        {
          "data": {"name": "fprop"},
          "mark": {"type": "text", "font": "DejaVu Sans", "fontSize": 44, "align": "left", "baseline": "alphabetic", "color": "#0000ff"},
          "encoding": {
            "x": {"field": "lf", "type": "quantitative", "scale": {"domain": [-11.32, 3.3746], "nice": false, "zero": false}, "axis": null},
            "y": {"field": "lh", "type": "quantitative", "scale": {"domain": [-29.3226, -11.3613], "nice": false, "zero": false}, "axis": null},
            "text": {"field": "t"}
          }
        },
        {
          "data": {"name": "fsm"},
          "mark": {"type": "text", "font": "Liberation Serif", "fontStyle": "italic", "fontSize": 25, "align": "left", "baseline": "alphabetic", "color": "#0000ff"},
          "encoding": {
            "x": {"field": "lf", "type": "quantitative", "scale": {"domain": [-11.32, 3.3746], "nice": false, "zero": false}, "axis": null},
            "y": {"field": "lh", "type": "quantitative", "scale": {"domain": [-29.3226, -11.3613], "nice": false, "zero": false}, "axis": null},
            "text": {"field": "t"}
          }
        },
        {
          "data": {"values": [{"lf": 2.7503, "lh": -12.5691, "t": "−3/2"}]},
          "mark": {"type": "text", "font": "Liberation Serif", "fontStyle": "italic", "fontSize": 35, "align": "left", "baseline": "alphabetic", "color": "#0000ff"},
          "encoding": {
            "x": {"field": "lf", "type": "quantitative", "scale": {"domain": [-11.32, 3.3746], "nice": false, "zero": false}, "axis": null},
            "y": {"field": "lh", "type": "quantitative", "scale": {"domain": [-29.3226, -11.3613], "nice": false, "zero": false}, "axis": null},
            "text": {"field": "t"}
          }
        },
        {
          "data": {"name": "sqrt"},
          "mark": {"type": "line", "color": "#0000ff", "strokeWidth": 2.5},
          "encoding": {
            "x": {"field": "lf", "type": "quantitative", "scale": {"domain": [-11.32, 3.3746], "nice": false, "zero": false}, "axis": null},
            "y": {"field": "lh", "type": "quantitative", "scale": {"domain": [-29.3226, -11.3613], "nice": false, "zero": false}, "axis": null}
          }
        },
        {
          "data": {"values": [{}]},
          "mark": {"type": "rule", "color": "#0000ff", "strokeWidth": 2.5},
          "encoding": {
            "x": {"datum": 0.253, "type": "quantitative", "scale": {"domain": [-11.32, 3.3746], "nice": false, "zero": false}, "axis": null},
            "x2": {"datum": 2.0167},
            "y": {"datum": -12.7084, "type": "quantitative", "scale": {"domain": [-29.3226, -11.3613], "nice": false, "zero": false}, "axis": null}
          }
        },
        {
          "data": {"name": "orange"},
          "mark": {"type": "line", "color": "#ff9900", "strokeWidth": 3.2},
          "encoding": {
            "x": {"field": "lf", "type": "quantitative", "scale": {"domain": [-11.32, 3.3746], "nice": false, "zero": false}, "axis": null},
            "y": {"field": "lh", "type": "quantitative", "scale": {"domain": [-29.3226, -11.3613], "nice": false, "zero": false}, "axis": null},
            "detail": {"field": "c"},
            "order": {"field": "i"}
          }
        }
      ],
      "resolve": {"scale": {"x": "shared", "y": "shared"}, "axis": {"x": "independent", "y": "independent"}}
    }
  ],
  "resolve": {"scale": {"x": "independent", "y": "independent"}}
}
